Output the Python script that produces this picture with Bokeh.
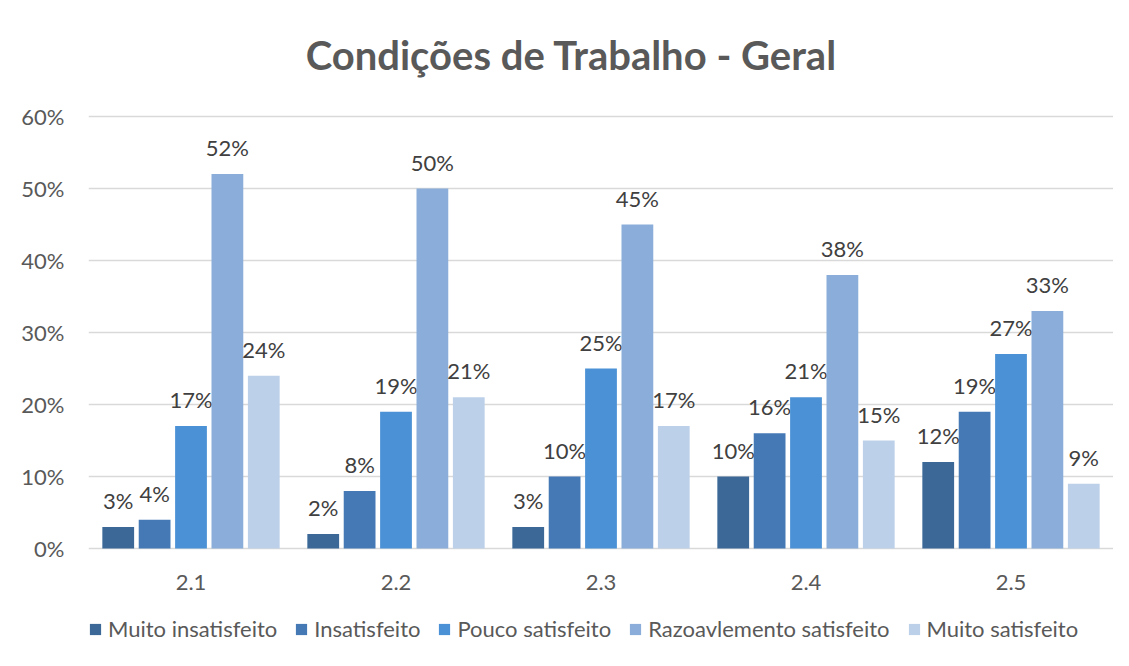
from bokeh.plotting import figure
from bokeh.models import (ColumnDataSource, FactorRange, NumeralTickFormatter, Legend,
                          LegendItem, FixedTicker, Range1d, Label)
from bokeh.transform import dodge
from bokeh.core.properties import value
from bokeh.embed import file_html
from bokeh.resources import INLINE

categories = ["2.1", "2.2", "2.3", "2.4", "2.5"]
series_names = ["Muito insatisfeito", "Insatisfeito", "Pouco satisfeito",
                "Razoavlemento satisfeito", "Muito satisfeito"]
muito_insatisfeito = [3, 2, 3, 10, 12]
insatisfeito = [4, 8, 10, 16, 19]
pouco_satisfeito = [17, 19, 25, 21, 27]
razoavelmente_satisfeito = [52, 50, 45, 38, 33]
muito_satisfeito = [24, 21, 17, 15, 9]
y_ticks = [0, 0.1, 0.2, 0.3, 0.4, 0.5, 0.6]
title_text = "Condições de Trabalho - Geral"

series_values = [muito_insatisfeito, insatisfeito, pouco_satisfeito,
                 razoavelmente_satisfeito, muito_satisfeito]
colors = ["#3b6897", "#4479b6", "#4b91d5", "#8aadd9", "#bdd0ea"]

FONT = "Lato"
TXT = "#595959"

# layout (pixels): plot area 0% at y=548, 60% at y=116, canvas 650 high
PX_PER_UNIT = (548 - 116) / 0.6
Y_TOP = 0.6 + 116 / PX_PER_UNIT
Y_BOTTOM = -(650 - 548) / PX_PER_UNIT

p = figure(x_range=FactorRange(*categories, range_padding=0),
           y_range=Range1d(Y_BOTTOM, Y_TOP),
           frame_width=1025, frame_height=650, output_backend="svg", toolbar_location=None,
           min_border_left=88, min_border_right=0, min_border_top=0, min_border_bottom=0)

step = 0.1775
width = 0.155
items = []
for i, (name, vals, col) in enumerate(zip(series_names, series_values, colors)):
    src = ColumnDataSource(dict(cat=categories, v=[v / 100 for v in vals],
                                lbl=[f"{v}%" for v in vals]))
    off = (i - 2) * step
    r = p.vbar(x=dodge("cat", off, range=p.x_range), top="v", width=width, source=src,
               fill_color=col, line_color=None)
    p.text(x=dodge("cat", off, range=p.x_range), y="v", text="lbl", source=src,
           text_align="center", text_baseline="bottom", y_offset=-13,
           text_font=value(FONT), text_font_size="22px", text_color="#404040")
    items.append(LegendItem(label=name, renderers=[r]))

# category labels under the baseline
cat_src = ColumnDataSource(dict(cat=categories, y=[0] * len(categories)))
p.text(x="cat", y="y", text="cat", source=cat_src, text_align="center",
       text_baseline="middle", y_offset=34, text_font=value(FONT),
       text_font_size="22px", text_color=TXT)

title = Label(x=2.356, y=0.6 + (116 - 54) / PX_PER_UNIT, text=title_text,
              text_align="center", text_baseline="middle", text_font=FONT,
              text_font_size="40px", text_font_style="bold", text_color=TXT)
p.add_layout(title)

p.xaxis.visible = False
p.yaxis.ticker = FixedTicker(ticks=y_ticks)
p.yaxis.formatter = NumeralTickFormatter(format="0%")
p.yaxis.axis_line_color = None
p.yaxis.major_tick_line_color = None
p.yaxis.minor_tick_line_color = None
p.yaxis.major_label_text_font = FONT
p.yaxis.major_label_text_font_size = "22px"
p.yaxis.major_label_text_color = TXT
p.yaxis.major_label_standoff = 18

p.xgrid.grid_line_color = None
p.ygrid.ticker = FixedTicker(ticks=y_ticks)
p.ygrid.grid_line_color = "#d9d9d9"
p.ygrid.grid_line_width = 1.5
p.outline_line_color = None

legend = Legend(items=items, orientation="horizontal", location=(0, 8),
                label_text_font=FONT, label_text_font_size="22px", label_text_color=TXT,
                glyph_width=14, glyph_height=14, spacing=17, label_standoff=6,
                border_line_color=None, background_fill_alpha=0, margin=0, padding=0)
p.add_layout(legend, "center")

open("out.html", "w").write(file_html(p, INLINE))
